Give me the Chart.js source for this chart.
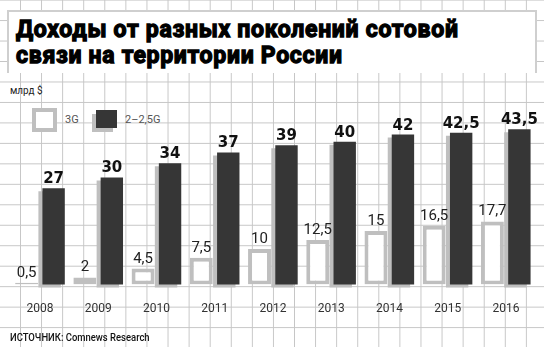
<!DOCTYPE html>
<html lang="ru">
<head>
<meta charset="utf-8">
<title>Доходы от разных поколений сотовой связи</title>
<script src="https://cdn.jsdelivr.net/npm/chart.js@4.4.1/dist/chart.umd.min.js"></script>
<style>
    html, body { margin: 0; padding: 0; background: #fff; }
    #board {
        position: relative;
        width: 544px;
        height: 347px;
        overflow: hidden;
        background-color: #fff;
        background-image:
            linear-gradient(to right, #c6c6c6 1px, transparent 1px),
            linear-gradient(to bottom, #c6c6c6 1px, transparent 1px);
        background-size: 21.08px 20.48px;
        background-position: -1.08px -0.4px;
        font-family: Roboto, "Liberation Sans", sans-serif;
    }
    #board canvas { position: absolute; left: 0; top: 0; }
    .title-box {
        position: absolute;
        left: 7px;
        top: 10px;
        width: 526px;
        height: 61px;
        background: #fff;
        border: 2px solid #cfcfcf;
        border-bottom: none;
    }
    .title {
        position: absolute;
        left: 16px;
        top: 17px;
        margin: 0;
        font: 700 23px/26px Roboto, "Liberation Sans", sans-serif;
        color: #000;
        -webkit-text-stroke: 1.3px #000;
        letter-spacing: 0.7px;
        white-space: nowrap;
    }
    .unit {
        position: absolute;
        left: 10px;
        top: 84px;
        font-size: 11px;
        color: #222;
        transform: scaleX(0.9);
        transform-origin: left top;
    }
    .legend-item {
        position: absolute;
        top: 108px;
        height: 24px;
        font-size: 11px;
        line-height: 24px;
        color: #555;
    }
    .legend-swatch {
        position: absolute;
        box-sizing: border-box;
    }
    .legend-text { position: absolute; top: 0; white-space: nowrap; }
    .source {
        position: absolute;
        left: 10px;
        top: 331px;
        font-size: 11px;
        font-weight: 500;
        color: #111;
        white-space: nowrap;
        transform: scaleX(0.86);
        transform-origin: left top;
    }
</style>
</head>
<body>
<div id="board">
    <div class="title-box"></div>
    <h1 class="title">Доходы от разных поколений сотовой<br>связи на территории России</h1>
    <div class="unit">млрд $</div>
    <div id="legend"></div>
    <canvas id="revenueChart" width="544" height="347"></canvas>
    <div class="source">ИСТОЧНИК: Comnews Research</div>
</div>
<script>
const years = ['2008', '2009', '2010', '2011', '2012', '2013', '2014', '2015', '2016'];
const revenue3G = [0.5, 2, 4.5, 7.5, 10, 12.5, 15, 16.5, 17.7];
const revenue2G = [27, 30, 34, 37, 39, 40, 42, 42.5, 43.5];
const seriesNames = ['3G', '2–2,5G'];

const COLOR_DARK = '#363636';
const COLOR_GREY = '#bfbfbf';

function formatValue(value) {
    return String(value).replace('.', ',');
}

// legend boxes: hollow frame for 3G, dark block with offset shadow for 2–2,5G
function buildLegend() {
    const legend = document.getElementById('legend');
    const items = [
        { left: 32, swatch: 'left:0;top:0;width:25px;height:24px;background:#fff;border:4px solid ' + COLOR_GREY, textLeft: 33 },
        { left: 92, swatch: 'left:4px;top:2px;width:21px;height:18px;background:' + COLOR_DARK + ';box-shadow:-4px 4px 0 ' + COLOR_GREY, textLeft: 33 }
    ];

    items.forEach(function(item, i) {
        const el = document.createElement('div');
        el.className = 'legend-item';
        el.style.left = item.left + 'px';

        const swatch = document.createElement('div');
        swatch.className = 'legend-swatch';
        swatch.style.cssText = swatch.style.cssText + item.swatch;

        const text = document.createElement('div');
        text.className = 'legend-text';
        text.style.left = item.textLeft + 'px';
        text.textContent = seriesNames[i];

        el.appendChild(swatch);
        el.appendChild(text);
        legend.appendChild(el);
    });
}

buildLegend();

// grey drop shadow under the dark bars
const barShadow = {
    id: 'barShadow',
    beforeDatasetDraw(chart, args) {
        if (args.index !== 1) {
            return;
        }
        const ctx = chart.ctx;
        ctx.save();
        ctx.shadowColor = COLOR_GREY;
        ctx.shadowOffsetX = -4;
        ctx.shadowOffsetY = 3;
        ctx.shadowBlur = 0;
    },
    afterDatasetDraw(chart, args) {
        if (args.index === 1) {
            chart.ctx.restore();
        }
    }
};

// numbers above the bars
const valueLabels = {
    id: 'valueLabels',
    afterDatasetsDraw(chart) {
        const ctx = chart.ctx;
        ctx.save();
        ctx.textAlign = 'center';
        ctx.textBaseline = 'alphabetic';

        chart.data.datasets.forEach(function(dataset, di) {
            const meta = chart.getDatasetMeta(di);
            meta.data.forEach(function(bar, i) {
                if (di === 1) {
                    ctx.font = 'bold 15px "DejaVu Sans"';
                    ctx.fillStyle = '#111';
                    ctx.fillText(formatValue(dataset.data[i]), bar.x, bar.y - 5);
                } else {
                    ctx.font = '15px Roboto';
                    ctx.fillStyle = '#222';
                    ctx.fillText(formatValue(dataset.data[i]), bar.x, bar.y - 6);
                }
            });
        });

        ctx.restore();
    }
};

new Chart(document.getElementById('revenueChart'), {
    type: 'bar',
    data: {
        labels: years,
        datasets: [{
            label: seriesNames[0],
            data: revenue3G,
            backgroundColor: '#fff',
            borderColor: COLOR_GREY,
            borderWidth: 4,
            borderSkipped: false,
            categoryPercentage: 0.927,
            barPercentage: 0.85
        }, {
            label: seriesNames[1],
            data: revenue2G,
            backgroundColor: COLOR_DARK,
            borderWidth: 0,
            categoryPercentage: 0.927,
            barPercentage: 0.83,
            clip: false
        }]
    },
    options: {
        responsive: false,
        animation: false,
        devicePixelRatio: 1,
        layout: {
            padding: { top: 106, bottom: 22, left: 11, right: 9 }
        },
        plugins: {
            legend: { display: false },
            tooltip: { enabled: false }
        },
        scales: {
            x: {
                grid: { display: false },
                border: { display: false },
                ticks: {
                    padding: 9,
                    color: '#333',
                    font: { family: 'Roboto', size: 12 }
                }
            },
            y: {
                display: false,
                min: 0,
                max: 50
            }
        }
    },
    plugins: [barShadow, valueLabels]
});
</script>
</body>
</html>
